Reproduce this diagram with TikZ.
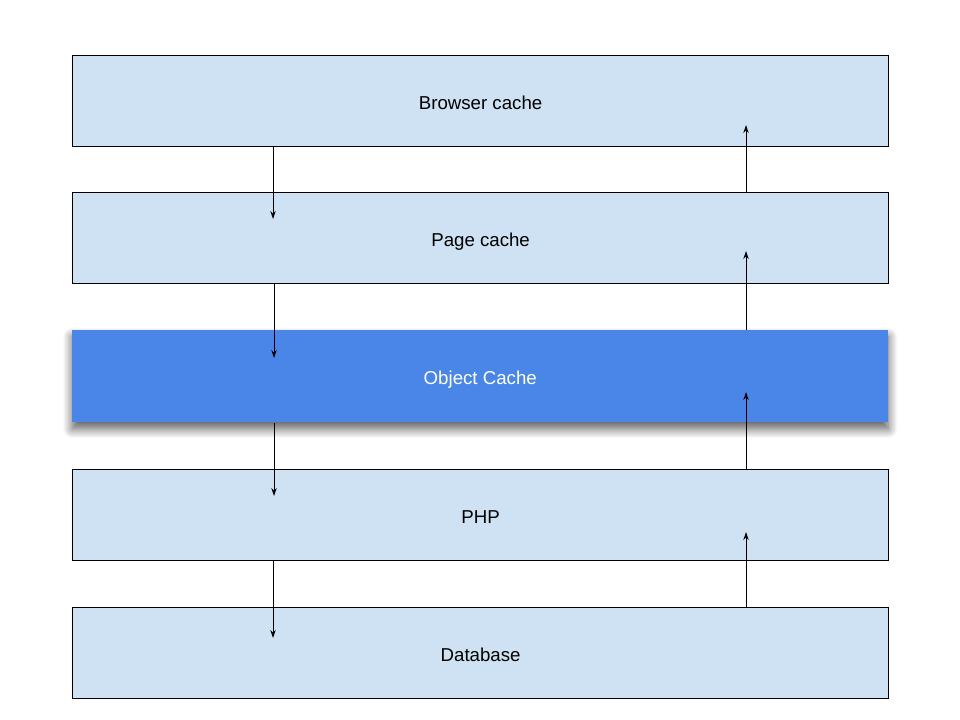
\documentclass[tikz,border=0pt]{standalone}
\usepackage{fontspec}
\setmainfont{Liberation Sans}
\usetikzlibrary{shadows.blur,arrows.meta}
\definecolor{lightbox}{HTML}{CFE2F3}
\definecolor{bluebox}{HTML}{4A86E8}
\begin{document}
\begin{tikzpicture}[x=0.75pt,y=-0.75pt,
  boxtext/.style={font=\fontsize{14}{16}\selectfont,text height=12.2pt,text depth=0pt,inner sep=0pt,anchor=north west,minimum width=816*0.75pt},
  layer/.style={boxtext,draw=black,line width=0.9pt,fill=lightbox,minimum height=91*0.75pt},
  hilite/.style={boxtext,fill=bluebox,text=white,minimum height=92*0.75pt,blur shadow={shadow xshift=0pt,shadow yshift=-5pt,shadow blur radius=7pt,shadow opacity=65,shadow blur steps=14}},
  arr/.style={line width=0.75pt,-{Stealth[length=6pt,width=4pt]}}]
\useasboundingbox (0,0) rectangle (960,720);
\node[layer] (b1) at (72,55) {Browser cache};
\node[layer] (b2) at (72,192) {Page cache};
\node[hilite] (b3) at (72,330) {Object Cache};
\node[layer] (b4) at (72,469) {PHP};
\node[layer] (b5) at (72,607) {Database};
% down arrows
\coordinate (d1) at (273,219);
\coordinate (d2) at (274,358);
\coordinate (d3) at (274,496);
\coordinate (d4) at (273,638);
\draw[arr] (b1.south -| d1) -- (d1);
\draw[arr] (b2.south -| d2) -- (d2);
\draw[arr] (b3.south -| d3) -- (d3);
\draw[arr] (b4.south -| d4) -- (d4);
% up arrows
\coordinate (u1) at (746,125);
\coordinate (u2) at (746,251);
\coordinate (u3) at (746,392);
\coordinate (u4) at (746,532);
\draw[arr] (b2.north -| u1) -- (u1);
\draw[arr] (b3.north -| u2) -- (u2);
\draw[arr] (b4.north -| u3) -- (u3);
\draw[arr] (b5.north -| u4) -- (u4);
\end{tikzpicture}
\end{document}
